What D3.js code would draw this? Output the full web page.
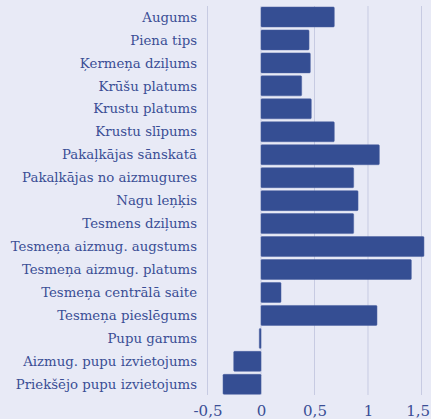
<!DOCTYPE html>
<html><head><meta charset="utf-8">
<script src="https://cdn.jsdelivr.net/npm/d3@7"></script>
<style>body{margin:0;background:#e8eaf6;}svg{display:block;}</style>
</head><body>
<script>
const categories = ["Augums","Piena tips","Ķermeņa dziļums","Krūšu platums","Krustu platums","Krustu slīpums","Pakaļkājas sānskatā","Pakaļkājas no aizmugures","Nagu leņķis","Tesmens dziļums","Tesmeņa aizmug. augstums","Tesmeņa aizmug. platums","Tesmeņa centrālā saite","Tesmeņa pieslēgums","Pupu garums","Aizmug. pupu izvietojums","Priekšējo pupu izvietojums"];
const values = [0.685,0.449,0.461,0.380,0.470,0.685,1.106,0.866,0.907,0.866,1.523,1.405,0.187,1.084,-0.016,-0.255,-0.355];
const ticks = [-0.5,0,0.5,1,1.5];
const tickLabels = ["-0,5","0","0,5","1","1,5"];

const W=431,H=419;
const svg=d3.select("body").append("svg").attr("width",W).attr("height",H);
svg.append("rect").attr("width",W).attr("height",H).attr("fill","#e8eaf6");
const x=d3.scaleLinear().domain([-0.5,1.5]).range([207.5,421.5]);
const y=d3.scaleBand().domain(categories).range([5.5,395.8]).paddingInner(0.13).paddingOuter(0.065);
const font="'DejaVu Serif', serif";
const col="#3a4e95";
// grid
svg.append("g").selectAll("line").data(ticks).join("line")
 .attr("x1",d=>x(d)).attr("x2",d=>x(d)).attr("y1",6).attr("y2",395)
 .attr("stroke","#c7cbe2").attr("stroke-width",1);
// bars
svg.append("g").selectAll("rect").data(categories).join("rect")
 .attr("x",(d,i)=>x(Math.min(0,values[i])))
 .attr("width",(d,i)=>Math.abs(x(values[i])-x(0)))
 .attr("y",d=>y(d)).attr("height",y.bandwidth())
 .attr("rx",1).attr("fill","#354e93").attr("stroke","#4a60a0").attr("stroke-width",0.5);
// category labels
svg.append("g").selectAll("text").data(categories).join("text")
 .attr("x",197).attr("y",d=>y(d)+y.bandwidth()/2).attr("dy","0.35em")
 .attr("text-anchor","end").attr("font-family",font).attr("font-size",13.3)
 .attr("fill",col).text(d=>d);
// x axis labels
const axis=d3.axisBottom(x).tickValues(ticks).tickFormat((d,i)=>tickLabels[i]).tickSize(0);
const g=svg.append("g").attr("transform","translate(0,402)").call(axis);
g.select(".domain").remove();
g.selectAll("text").attr("font-family",font).attr("font-size",15).attr("fill",col).attr("dy","0.72em");
g.selectAll(".tick text").each(function(){
  const b=this.getBBox();
  const t=d3.select(this.parentNode).attr("transform").match(/translate\(([-\d.]+)/);
  const tx=+t[1];
  const over=tx+b.x+b.width-(W-1);
  if(over>0) d3.select(this).attr("x",-over);
});
</script>
</body></html>
